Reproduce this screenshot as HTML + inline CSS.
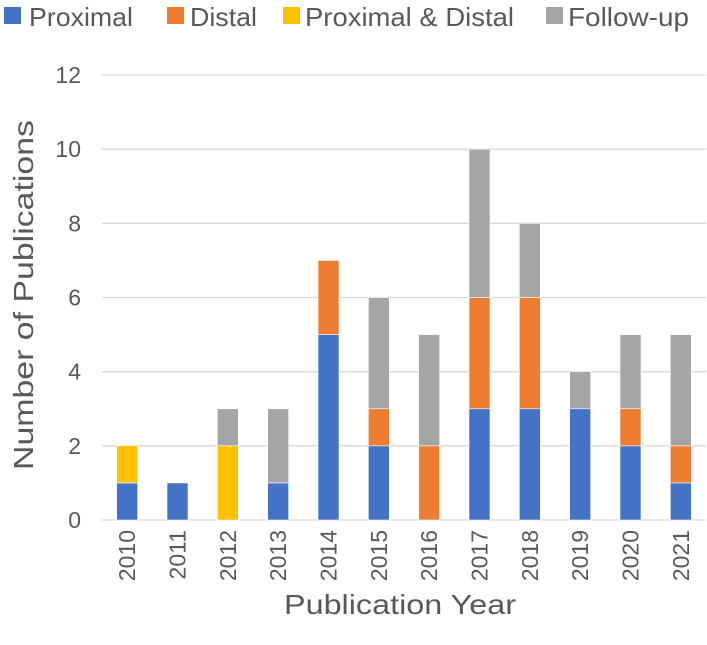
<!DOCTYPE html>
<html><head><meta charset="utf-8"><style>
body{margin:0;background:#fff;}
svg{display:block;font-family:"Liberation Sans",sans-serif;}
</style></head><body>
<svg id="chart" width="707" height="645">
<g id="grid"></g>
<g id="bars"></g>
<g id="yticks"></g>
<g id="xticks"></g>
<text x="400" y="614" text-anchor="middle" font-size="28" fill="#595959" textLength="232" lengthAdjust="spacingAndGlyphs">Publication Year</text>
<text transform="translate(33,295) rotate(-90)" text-anchor="middle" font-size="28" fill="#595959" textLength="350" lengthAdjust="spacingAndGlyphs">Number of Publications</text>
<g id="legend"></g>
</svg>
<script>
const categories=["2010","2011","2012","2013","2014","2015","2016","2017","2018","2019","2020","2021"];
const proximal=[1,1,0,1,5,2,0,3,3,3,2,1];
const distal=[0,0,0,0,2,1,2,3,3,0,1,1];
const proxDistal=[1,0,2,0,0,0,0,0,0,0,0,0];
const followUp=[0,0,1,2,0,3,3,4,2,1,2,3];
const yTicks=[0,2,4,6,8,10,12];
const seriesNames=["Proximal","Distal","Proximal & Distal","Follow-up"];
const colors=["#4472C4","#ED7D31","#FFC000","#A5A5A5"];
const NS="http://www.w3.org/2000/svg";
const y0=520,yTop=75,yMax=12,x0=102,x1=706;
const y=v=>y0-(v/yMax)*(y0-yTop);
const step=(x1-x0)/categories.length;
const xc=i=>x0+step*(i+0.5);
const bw=21;
function mk(t,a,p){const e=document.createElementNS(NS,t);for(const k in a)e.setAttribute(k,a[k]);p.appendChild(e);return e;}
const grid=document.getElementById('grid'),yt=document.getElementById('yticks');
yTicks.forEach(v=>{
 const l=mk('line',{x1:x0,x2:x1,y1:y(v),y2:y(v),stroke:'#D9D9D9','stroke-width':1.3},grid);
 
 
 const t=mk('text',{x:81,y:y(v)+8,'text-anchor':'end','font-size':23,fill:'#595959'},yt);
 t.textContent=v;
 
 
});
const bars=document.getElementById('bars'),xt=document.getElementById('xticks');
const series=[proximal,distal,proxDistal,followUp];
categories.forEach((c,i)=>{
 let acc=0;
 series.forEach((s,k)=>{
  const v=s[i];if(!v)return;
  const r=mk('rect',{x:xc(i)-bw/2,y:y(acc+v),width:bw,height:y(acc)-y(acc+v),fill:colors[k],stroke:'#fff','stroke-width':0.6},bars);
  
  
  acc+=v;
 });
 const t=mk('text',{transform:`translate(${xc(i)+8},${y0+10}) rotate(-90)`,'text-anchor':'end','font-size':23,fill:'#595959'},xt);
 t.textContent=c;
 
 
});
const lg=document.getElementById('legend');
const lx=[4,167,283,546];
const tx=[29,190,305,568];
const lw=[104,67,209,121];
seriesNames.forEach((n,k)=>{
 const g=mk('g',{},lg);
 
 
 mk('rect',{x:lx[k],y:7,width:17,height:17,fill:colors[k]},g);
 const t=mk('text',{x:tx[k],y:26,'font-size':26,fill:'#595959',textLength:lw[k],lengthAdjust:'spacingAndGlyphs'},g);
 t.textContent=n;
});
</script>
</body></html>
